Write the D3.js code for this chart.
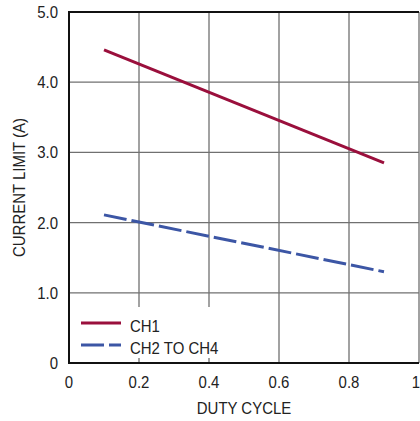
<!DOCTYPE html>
<html><head><meta charset="utf-8">
<script src="https://cdn.jsdelivr.net/npm/d3@7"></script>
<style>html,body{margin:0;padding:0;background:#fff;}svg{display:block;}</style>
</head><body>
<script>
const dutyCycle = [0.1, 0.9];
const ch1 = [4.46, 2.85];
const ch2 = [2.11, 1.30];
const seriesNames = ["CH1", "CH2 TO CH4"];
const xTicks = [0, 0.2, 0.4, 0.6, 0.8, 1];
const xTickLabels = ["0", "0.2", "0.4", "0.6", "0.8", "1"];
const yTicks = [0, 1, 2, 3, 4, 5];
const yTickLabels = ["0", "1.0", "2.0", "3.0", "4.0", "5.0"];

const W = 420, H = 421;
const m = {left: 69, right: 1, top: 12, bottom: 58};
const font = "'Liberation Sans', Arial, sans-serif";
const FS = 17, SX = 0.88;
const svg = d3.select("body").append("svg").attr("width", W).attr("height", H);
const x = d3.scaleLinear().domain([0, 1]).range([m.left, W - m.right]);
const y = d3.scaleLinear().domain([0, 5]).range([H - m.bottom, m.top]);

function label(px, py, txt, anchor, rot) {
  const gg = svg.append("g").attr("transform", `translate(${px},${py})${rot ? " rotate(" + rot + ")" : ""} scale(${SX},1)`);
  gg.append("text").attr("text-anchor", anchor || "start")
    .attr("font-family", font).attr("font-size", FS).attr("fill", "#222").text(txt);
}

// grid
const g = svg.append("g");
g.selectAll("line.v").data(xTicks.slice(1)).join("line")
  .attr("x1", d => x(d)).attr("x2", d => x(d)).attr("y1", y(0)).attr("y2", y(5))
  .attr("stroke", "#707070").attr("stroke-width", 1.3);
g.selectAll("line.h").data(yTicks.slice(1, 5)).join("line")
  .attr("x1", x(0)).attr("x2", x(1)).attr("y1", d => y(d)).attr("y2", d => y(d))
  .attr("stroke", "#707070").attr("stroke-width", 1.3);

// legend background
svg.append("rect").attr("x", x(0) + 1).attr("y", 307).attr("width", 160).attr("height", 51).attr("fill", "#fff");

// borders
svg.append("line").attr("x1", x(0)).attr("x2", x(1)).attr("y1", y(5)).attr("y2", y(5)).attr("stroke", "#111").attr("stroke-width", 2);
svg.append("line").attr("x1", x(0)).attr("x2", x(1)).attr("y1", y(0)).attr("y2", y(0)).attr("stroke", "#111").attr("stroke-width", 2);
svg.append("line").attr("x1", x(0)).attr("x2", x(0)).attr("y1", y(0) + 1).attr("y2", y(5) - 1).attr("stroke", "#111").attr("stroke-width", 2);

// lines
const line = d3.line().x(d => x(d[0])).y(d => y(d[1]));
svg.append("path").datum(dutyCycle.map((d, i) => [d, ch1[i]])).attr("d", line)
  .attr("fill", "none").attr("stroke", "#9a0f3c").attr("stroke-width", 3);
svg.append("path").datum(dutyCycle.map((d, i) => [d, ch2[i]])).attr("d", line)
  .attr("fill", "none").attr("stroke", "#3c56a5").attr("stroke-width", 3).attr("stroke-dasharray", "23,5");

// tick labels
xTicks.forEach((d, i) => {
  if (i === xTicks.length - 1) label(W, y(0) + 25, xTickLabels[i], "end");
  else label(x(d), y(0) + 25, xTickLabels[i], "middle");
});
yTicks.forEach((d, i) => label(x(0) - 11, y(d) + 6, yTickLabels[i], "end"));

// axis titles
label((x(0) + x(1)) / 2, 414, "DUTY CYCLE", "middle");
label(25, (y(0) + y(5)) / 2, "CURRENT LIMIT (A)", "middle", -90);

// legend
const colors = ["#9a0f3c", "#3c56a5"];
const dashes = [null, "23,5"];
seriesNames.forEach((name, i) => {
  const ly = 323 + i * 22;
  svg.append("line").attr("x1", 81).attr("x2", 121).attr("y1", ly).attr("y2", ly)
    .attr("stroke", colors[i]).attr("stroke-width", 3).attr("stroke-dasharray", dashes[i]);
  label(130, ly + 9, name, "start");
});
</script>
</body></html>
